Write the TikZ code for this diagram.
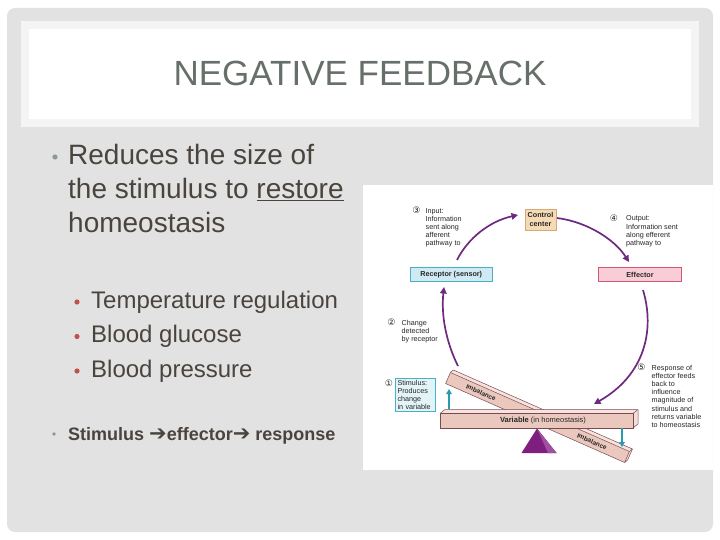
\documentclass[tikz,border=0pt]{standalone}
\usepackage{fontspec}
\setmainfont{Liberation Sans}
\newfontfamily\djv{DejaVu Sans}
\usetikzlibrary{arrows.meta}
\definecolor{slidegray}{HTML}{E2E2E2}
\definecolor{titleouter}{HTML}{F4F4F4}
\definecolor{titletext}{HTML}{667069}
\definecolor{bodytext}{HTML}{4A443E}
\definecolor{bulgray}{HTML}{8C9A92}
\definecolor{bulred}{HTML}{C0504D}
\definecolor{arrpurple}{HTML}{6E2A7E}
\definecolor{tealA}{HTML}{2A9AB0}
\definecolor{ccfill}{HTML}{F5DBB5}
\definecolor{ccdraw}{HTML}{D4A878}
\definecolor{recfill}{HTML}{CFEAF3}
\definecolor{recdraw}{HTML}{49AFC4}
\definecolor{efffill}{HTML}{F8CDD6}
\definecolor{effdraw}{HTML}{D2557A}
\definecolor{beamfront}{HTML}{EBC8BE}
\definecolor{beamtop}{HTML}{F7E3DD}
\definecolor{beamedge}{HTML}{7A4A52}
\definecolor{fulcrum}{HTML}{7E1F80}
\definecolor{fulcrumB}{HTML}{A0509F}
\definecolor{stimfill}{HTML}{E3F4F8}
\begin{document}
\begin{tikzpicture}[x=1pt,y=-1pt,
  body/.style={font=\fontsize{28}{31}\selectfont, text=bodytext, anchor=base west, inner sep=0pt},
  sub/.style={font=\fontsize{24}{27}\selectfont, text=bodytext, anchor=base west, inner sep=0pt},
  lbl/.style={font=\fontsize{7.2}{8.2}\selectfont, align=left, anchor=north west, inner sep=0pt, text=black!85},
  num/.style={font=\djv\fontsize{9}{9}\selectfont, inner sep=0pt, text=black!85},
  dbox/.style={draw, line width=0.7pt, font=\bfseries\fontsize{7.2}{8.4}\selectfont, inner sep=0pt, align=center, text=black!85},
  parrow/.style={draw=arrpurple, line width=1.7pt, -{Triangle[length=6.5pt,width=6.5pt]}},
  tarrow/.style={draw=tealA, line width=1.5pt, -{Triangle[length=5pt,width=5.5pt]}},
  beam/.style={draw=beamedge, line width=0.5pt, line join=round},
  btext/.style={font=\bfseries\fontsize{6.5}{7}\selectfont, inner sep=0pt, text=black!85}
]
\useasboundingbox (0,0) rectangle (720,540);
\fill[white] (0,0) rectangle (720,540);
\fill[slidegray, rounded corners=8pt] (7,8) rectangle (713,532);
% title box
\fill[titleouter] (21,21) rectangle (699,127);
\fill[white] (29,29) rectangle (691,119);
\node[font=\fontsize{35}{37}\selectfont, text=titletext, inner sep=0pt] (title) at (360,73.5) {NEGATIVE FEEDBACK};
% body text
\fill[bulgray] (55,157) circle (2.6pt);
\node[body] (l1) at (68,165) {Reduces the size of};
\node[body] (l2) at (68,199) {the stimulus to \underline{restore}};
\node[body] (l3) at (68,233) {homeostasis};
\fill[bulred] (77,302) circle (2.6pt);
\fill[bulred] (77,336.5) circle (2.6pt);
\fill[bulred] (77,371) circle (2.6pt);
\node[sub] (s1) at (91,308) {Temperature regulation};
\node[sub] (s2) at (91,342.5) {Blood glucose};
\node[sub] (s3) at (91,377) {Blood pressure};
\fill[bulgray] (54,434) circle (1.8pt);
\node[font=\bfseries\fontsize{18}{21}\selectfont, text=bodytext, anchor=base west, inner sep=0pt] (l4) at (68,440) {Stimulus {\djv\fontsize{21}{21}\selectfont ➔}effector{\djv\fontsize{21}{21}\selectfont ➔} response};
% diagram panel
\fill[white] (363,185) rectangle (713,470);
% tilted beam
\fill[beamfront] (450.4,372.5) -- (629.4,451.5) -- (624.6,462.5) -- (445.6,383.5) -- cycle;
\fill[beamtop] (450.4,372.5) -- (453.4,370) -- (632.4,449) -- (629.4,451.5) -- cycle;
\fill[beamtop!80!beamfront] (629.4,451.5) -- (632.4,449) -- (627.6,460) -- (624.6,462.5) -- cycle;
\draw[beam] (450.4,372.5) -- (629.4,451.5) -- (624.6,462.5) -- (445.6,383.5) -- cycle;
\draw[beam] (450.4,372.5) -- (453.4,370) -- (632.4,449) -- (629.4,451.5);
\draw[beam] (632.4,449) -- (627.6,460) -- (624.6,462.5);
\node[btext, rotate=-23.8] (imb1) at (481,392.5) {Imbalance};
\node[btext, rotate=-23.8] (imb2) at (592,441.5) {Imbalance};
% fulcrum
\fill[fulcrum] (537,428.5) -- (521.5,453) -- (556.5,453) -- cycle;
\fill[fulcrumB] (537,428.5) -- (556.5,453) -- (548,453) -- cycle;
% horizontal beam
\fill[beamfront] (440,413.5) rectangle (633,428);
\fill[beamtop] (440,413.5) -- (445,409.5) -- (638,409.5) -- (633,413.5) -- cycle;
\fill[beamtop!80!beamfront] (633,413.5) -- (638,409.5) -- (638,424) -- (633,428) -- cycle;
\draw[beam] (440,413.5) rectangle (633,428);
\draw[beam] (440,413.5) -- (445,409.5) -- (638,409.5) -- (633,413.5);
\draw[beam] (638,409.5) -- (638,424) -- (633,428);
\node[font=\fontsize{7.5}{8}\selectfont, inner sep=0pt, text=black!85] (var) at (543,421) {\textbf{Variable} (in homeostasis)};
% boxes
\node[dbox, fill=ccfill, draw=ccdraw, minimum width=31pt, minimum height=20.7pt] (cc) at (540.5,219.6) {Control\\center};
\node[dbox, fill=recfill, draw=recdraw, minimum width=82.7pt, minimum height=14.4pt] (rec) at (451.3,274.5) {Receptor (sensor)};
\node[dbox, fill=efffill, draw=effdraw, minimum width=83.4pt, minimum height=14.4pt] (eff) at (640,274.5) {Effector};
\node[draw=recdraw, fill=stimfill, line width=0.7pt, minimum width=40pt, minimum height=33.4pt, text width=36pt, align=left, inner sep=2pt, font=\fontsize{7.2}{8.1}\selectfont, text=black!85] (stim) at (415.5,395) {Stimulus:\\Produces\\change\\in variable};
% numbers and labels
\node[num] (n3) at (416.5,210.7) {③};
\node[lbl] (t3) at (425.5,208) {Input:\\Information\\sent along\\afferent\\pathway to};
\node[num] (n4) at (614,218.3) {④};
\node[lbl] (t4) at (626,215.7) {Output:\\Information sent\\along efferent\\pathway to};
\node[num] (n2) at (391.5,322.7) {②};
\node[lbl] (t2) at (401.5,320) {Change\\detected\\by receptor};
\node[num] (n5) at (641.5,367.3) {⑤};
\node[lbl] (t5) at (651.5,364.7) {Response of\\effector feeds\\back to\\influence\\magnitude of\\stimulus and\\returns variable\\to homeostasis};
\node[num] (n1) at (389,383.3) {①};
% purple arrows
\coordinate (a3s) at (457,260);
\coordinate (a3e) at (518,215);
\draw[parrow] (a3s) .. controls (468,238) and (490,221) .. (a3e);
\coordinate (a4s) at (557,218);
\coordinate (a4e) at (629,262);
\draw[parrow] (a4s) .. controls (588,222) and (615,240) .. (a4e);
\coordinate (a2s) at (458,366);
\coordinate (a2e) at (444,287);
\draw[parrow] (a2s) .. controls (446,342) and (441,315) .. (a2e);
\coordinate (a5s) at (643,290);
\coordinate (a5e) at (594,404);
\draw[parrow] (a5s) .. controls (655,330) and (645,375) .. (a5e);
% teal arrows
\coordinate (tu1) at (449,409);
\coordinate (tu2) at (449,389);
\draw[tarrow] (tu1) -- (tu2);
\coordinate (td1) at (622,428);
\coordinate (td2) at (622,447);
\draw[tarrow] (td1) -- (td2);
\end{tikzpicture}
\end{document}
